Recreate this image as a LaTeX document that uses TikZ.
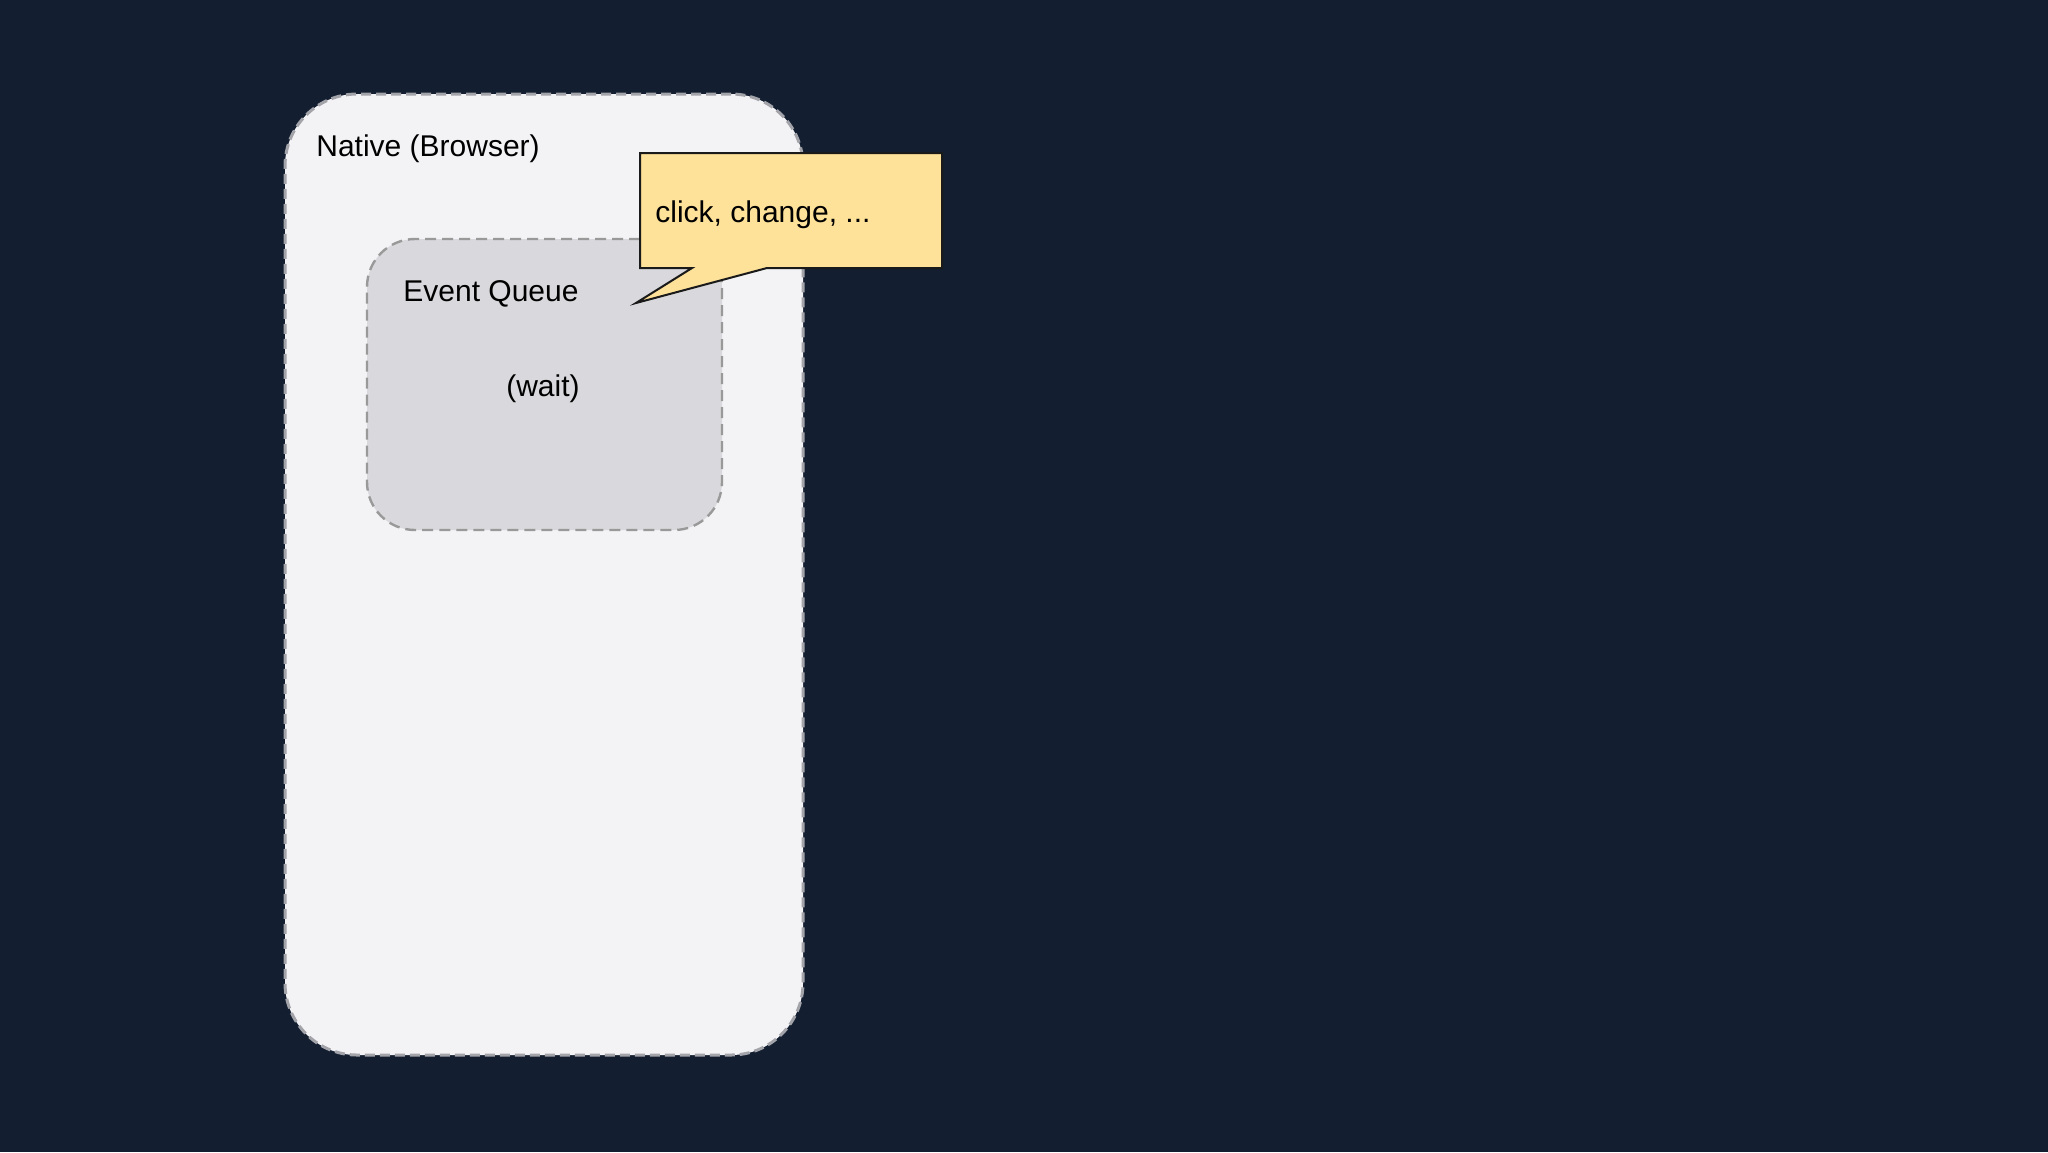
\documentclass[tikz,border=0pt]{standalone}
\usepackage{fontspec}
\setmainfont{Liberation Sans}
\definecolor{bgc}{HTML}{131F30}
\definecolor{outerfill}{HTML}{F3F2F5}
\definecolor{outerline}{HTML}{A3A3AA}
\definecolor{innerfill}{HTML}{D9D8DC}
\definecolor{innerline}{HTML}{999999}
\definecolor{notefill}{HTML}{FEE29A}
\definecolor{noteline}{HTML}{1A1A1A}
\begin{document}
\begin{tikzpicture}[x=0.5pt,y=-0.5pt,
  lbl/.style={font=\fontsize{15}{18}\selectfont, text=black, inner sep=0pt},
  outerbox/.style={draw=outerline, fill=outerfill, line width=1.5pt, dash pattern=on 5pt off 2.5pt, rounded corners=36pt, inner sep=0pt},
  innerbox/.style={draw=innerline, fill=innerfill, line width=1.2pt, dash pattern=on 5.5pt off 3pt, rounded corners=24pt, inner sep=0pt},
  notebox/.style={draw=noteline, fill=notefill, line width=1pt, line join=miter}
]
\fill[bgc] (0,0) rectangle (2048,1152);
\useasboundingbox (0,0) rectangle (2048,1152);

\node[outerbox, minimum width=259pt, minimum height=480.5pt] (native) at (544,574.5) {};
\node[lbl, anchor=west] (nativelbl) at (316,149) {Native (Browser)};

\node[innerbox, minimum width=177.5pt, minimum height=145.5pt] (queue) at (544.5,384.5) {};
\node[lbl, anchor=west] (queuelbl) at (403,294) {Event Queue};
\node[lbl] (wait) at (543,389) {(wait)};

\coordinate (tip) at (636,303);
\draw[notebox] (640,153) -- (942,153) -- (942,268) -- (767,268) -- (tip) -- (692,268) -- (640,268) -- cycle;
\node[lbl, anchor=west] (note) at (655,215) {click, change, ...};
\end{tikzpicture}
\end{document}
